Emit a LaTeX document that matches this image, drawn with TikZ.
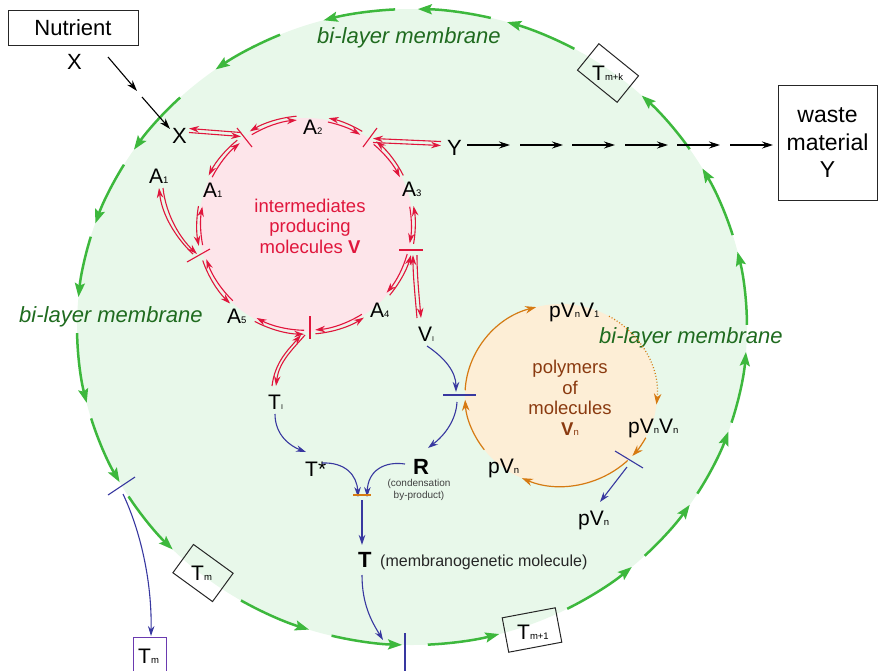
\documentclass[tikz,border=0pt]{standalone}
\usepackage{fontspec}
\setmainfont{Liberation Sans}
\usetikzlibrary{arrows.meta,calc}
\definecolor{memfill}{HTML}{E8F8EA}
\definecolor{pinkfill}{HTML}{FDE5EA}
\definecolor{orfill}{HTML}{FDEED6}
\definecolor{orline}{HTML}{D67A12}
\definecolor{rxred}{HTML}{E0163C}
\definecolor{blu}{HTML}{3838A0}
\definecolor{grn}{HTML}{3DB83D}
\definecolor{dgreen}{HTML}{1F6B1F}
\definecolor{polybrown}{HTML}{8A3A10}
\definecolor{purp}{HTML}{6A3AB0}
\newcommand\sbs[1]{{\fontsize{9.5}{9.5}\selectfont #1}}
\newcommand\tsb[1]{{\fontsize{7}{7}\selectfont #1}}
\newcommand\redarc[2]{%
  \draw[rline,{rtip}-] ($(P)+(#1:109.2)$) arc[start angle=#1,end angle=#2,radius=109.2];
  \draw[rline,-{rtip}] ($(P)+(#1:105.3)$) arc[start angle=#1,end angle=#2,radius=105.3];}
\newcommand\grseg[2]{%
  \draw[grarr] ($(E)+(#1:335 and 318)$) arc[start angle=#1,end angle=#2,x radius=335,y radius=318];}
\newcommand\orarc[3]{%
  \draw[orarrow,#3] ($(O)+(#1:96 and 91)$) arc[start angle=#1,end angle=#2,x radius=96,y radius=91];}
\tikzset{
  rtip/.tip={Stealth[length=10pt,width=6.5pt]},
  gtip/.tip={Stealth[length=14pt,width=10pt,inset=2.5pt]},
  btip/.tip={Stealth[length=10pt,width=6.5pt]},
  ktip/.tip={Stealth[length=11pt,width=7pt]},
  otip/.tip={Stealth[length=11pt,width=7.5pt]},
  rline/.style={draw=rxred,line width=1.1pt},
  grarr/.style={draw=grn,line width=2.5pt,-{gtip}},
  blarr/.style={draw=blu,line width=1.1pt,-{btip}},
  bkarr/.style={draw=black,line width=1.1pt,-{ktip}},
  orarrow/.style={draw=orline,line width=1.2pt},
  lab/.style={inner sep=0pt,font=\fontsize{21}{21}\selectfont,anchor=base west},
  memlbl/.style={inner sep=0pt,font=\fontsize{22}{22}\selectfont\itshape,text=dgreen,anchor=base west},
  tbox/.style={draw=black!85,line width=1pt,inner sep=0pt},
  tick/.style={line width=1.1pt},
}
\begin{document}
\begin{tikzpicture}[x=1pt,y=-1pt]
\useasboundingbox (0,0) rectangle (881,670);
\coordinate (E) at (412,327);
\coordinate (P) at (306,225);
\coordinate (O) at (561,395);
% fills
\fill[memfill] (E) ellipse[x radius=335,y radius=318];
\fill[pinkfill] (P) circle[radius=107];
\fill[orfill] (O) ellipse[x radius=96,y radius=91];

% membrane arrows
\grseg{-61}{-73.5}
\grseg{-76.4}{-89}
\grseg{-92.9}{-105.3}
\grseg{-113.2}{-125.9}
\grseg{-133.8}{-146.1}
\grseg{-149.3}{-161}
\grseg{-163.5}{-174.6}
\grseg{-181.1}{-193.8}
\grseg{-196.7}{-209.2}
\grseg{-212.2}{-224.4}
\grseg{-239.3}{-252.1}
\grseg{-256.1}{-268.3}
\grseg{-272.7}{-285.1}
\grseg{62.4}{49}
\grseg{46}{34}
\grseg{31.6}{19.2}
\grseg{17.5}{4.5}
\grseg{-0.4}{-13.7}
\grseg{-16.8}{-29.9}
\grseg{-34}{-46.7}

% membrane labels
\node[memlbl] (mtop) at (317,43) {bi-layer membrane};
\node[memlbl] (mleft) at (19,322) {bi-layer membrane};
\node[memlbl] (mright) at (599,343) {bi-layer membrane};

% boxes on membrane
\node[tbox,rotate=-39,minimum width=51pt,minimum height=34pt] (tmkbox) at (608,73) {};
\node[lab] (tmk) at (592,80) {T\sbs{m+k}};
\node[tbox,rotate=-36,minimum width=49pt,minimum height=35pt] (tmbox) at (203,573) {};
\node[lab] (tm) at (191,580) {T\sbs{m}};
\node[tbox,rotate=10.7,minimum width=54pt,minimum height=35pt] (tm1box) at (532,630) {};
\node[lab] (tm1) at (517,639) {T\sbs{m+1}};
\node[draw=purp,line width=1pt,minimum width=33pt,minimum height=40pt,inner sep=0pt] (tmout) at (149.5,657) {};
\node[lab] (tmo) at (138,663) {T\sbs{m}};

% nutrient and waste
\node[tbox,font=\fontsize{22}{22}\selectfont,minimum width=130pt,minimum height=35pt] (nut) at (73,27.5) {Nutrient};
\node[lab,font=\fontsize{22}{22}\selectfont] (Xo) at (67,69) {X};
\node[lab,font=\fontsize{22}{22}\selectfont] (Xi) at (172,143) {X};
\draw[bkarr] (108,57) -- (137,91);
\draw[bkarr] (142,97) -- (170,129);
\node[tbox,align=center,font=\fontsize{23}{27.5}\selectfont,minimum width=99pt,minimum height=115pt] (waste) at (827.5,143) {waste\\material\\Y};
\node[lab,font=\fontsize{22}{22}\selectfont] (Yi) at (447,155) {Y};
\foreach \s in {467,520,572,625,677,730} {\draw[bkarr] (\s,145) -- ++(43,0);}

% intermediates circle labels
\node[lab] (A1o) at (149,183) {A\sbs{1}};
\node[lab] (A1i) at (203,197) {A\sbs{1}};
\node[lab] (A2) at (303,134) {A\sbs{2}};
\node[lab] (A3) at (402,196) {A\sbs{3}};
\node[lab] (A4) at (370,317) {A\sbs{4}};
\node[lab] (A5) at (227,323) {A\sbs{5}};
\node[align=center,text=rxred,font=\fontsize{18.5}{20.5}\selectfont,inner sep=0pt] (inter) at (310,226) {intermediates\\producing\\molecules \textbf{V}};

% ticks on red cycle
\draw[rline,tick] (237,128) -- (252,147);
\draw[rline,tick] (363,147) -- (377,128);
\draw[rline,tick] (399,250) -- (423,250);
\draw[rline,tick] (310,316) -- (310,339);
\draw[rline,tick] (187,262) -- (210,249);

% red reversible arcs
\redarc{-121}{-95}
\redarc{-78}{-59}
\redarc{-50}{-27}
\redarc{-10}{10}
\redarc{16}{40}
\redarc{58}{85}
\redarc{91}{118}
\redarc{134}{161}
\redarc{169}{190}
\redarc{207}{231}

% red reversible connectors
\draw[rline,{rtip}-] (189,128.5) -- (241,132.5);
\draw[rline,-{rtip}] (189,132.5) -- (241,136.5);
\draw[rline,{rtip}-] (373,138.5) -- (441,141.5);
\draw[rline,-{rtip}] (373,142.5) -- (441,145.5);
\draw[rline,{rtip}-] (413,255) .. controls (413,275) and (415,295) .. (417,318);
\draw[rline,-{rtip},xshift=4pt] (413,255) .. controls (413,275) and (415,295) .. (417,318);
\draw[rline,{rtip}-] (301,335) .. controls (288,350) and (275,362) .. (272,386);
\draw[rline,-{rtip},xshift=4pt] (301,335) .. controls (288,350) and (275,362) .. (272,386);
\draw[rline,{rtip}-] (159,188) .. controls (162,215) and (176,238) .. (193,254);
\draw[rline,-{rtip},xshift=4pt] (159,188) .. controls (162,215) and (176,238) .. (193,254);

% lower pathway labels
\node[lab] (Tl) at (268,409) {T\tsb{I}};
\node[lab] (Vl) at (418,341) {V\tsb{I}};
\node[lab] (Ts) at (305,476) {T*};
\node[lab,font=\fontsize{22}{22}\selectfont\bfseries] (R) at (413,474) {R};
\node[align=center,text=black!75,font=\fontsize{10}{12}\selectfont,inner sep=0pt] (cond) at (419,490) {(condensation\\by-product)};
\node[lab,font=\fontsize{22}{22}\selectfont\bfseries] (T) at (358,567) {T};
\node[lab,font=\fontsize{16}{16}\selectfont,text=black!85] (membr) at (380,566) {(membranogenetic molecule)};

% blue pathway
\draw[blarr] (427,346) .. controls (445,358) and (456,372) .. (456,392);
\draw[blarr] (457,402) .. controls (456,420) and (445,435) .. (428,448);
\draw[blarr] (275,414) .. controls (275,435) and (290,446) .. (306,452);
\draw[blarr] (322,463) .. controls (345,462) and (357,475) .. (358,497);
\draw[blarr] (405,464) .. controls (385,461) and (368,470) .. (367,497);
\draw[orline,line width=1.2pt] (353,495) -- (371,495);
\draw[blarr] (362,500) -- (362,545);
\draw[blarr] (362,575) .. controls (362,605) and (372,622) .. (383,640);
\draw[blu,tick] (405,633) -- (405,672);
\draw[blu,tick] (108,495) -- (135,477);
\draw[blarr] (123,494) .. controls (140,530) and (152,580) .. (151,636);

% polymer cycle
\node[align=center,text=polybrown,font=\fontsize{18.5}{20.5}\selectfont,inner sep=0pt] (poly) at (570,398) {polymers\\of\\molecules\\\textbf{V}\sbs{n}};
\node[lab] (pVV1) at (549,317) {pV\sbs{n}V\sbs{1}};
\node[lab] (pVVn) at (628,433) {pV\sbs{n}V\sbs{n}};
\node[lab] (pVn) at (488,473) {pV\sbs{n}};
\node[lab] (pVnout) at (578,525) {pV\sbs{n}};
\orarc{183}{255}{-{otip}}
\orarc{300}{366}{-{otip},dash pattern=on 1pt off 2pt}
\orarc{28}{42}{-{otip}}
\orarc{46}{114}{-{otip}}
\orarc{143}{177}{-{otip}}
\draw[blu,tick] (443,395) -- (476,395);
\draw[blu,tick] (615,451) -- (643,468);
\draw[blarr] (627,467) -- (600,502);
\end{tikzpicture}
\end{document}
